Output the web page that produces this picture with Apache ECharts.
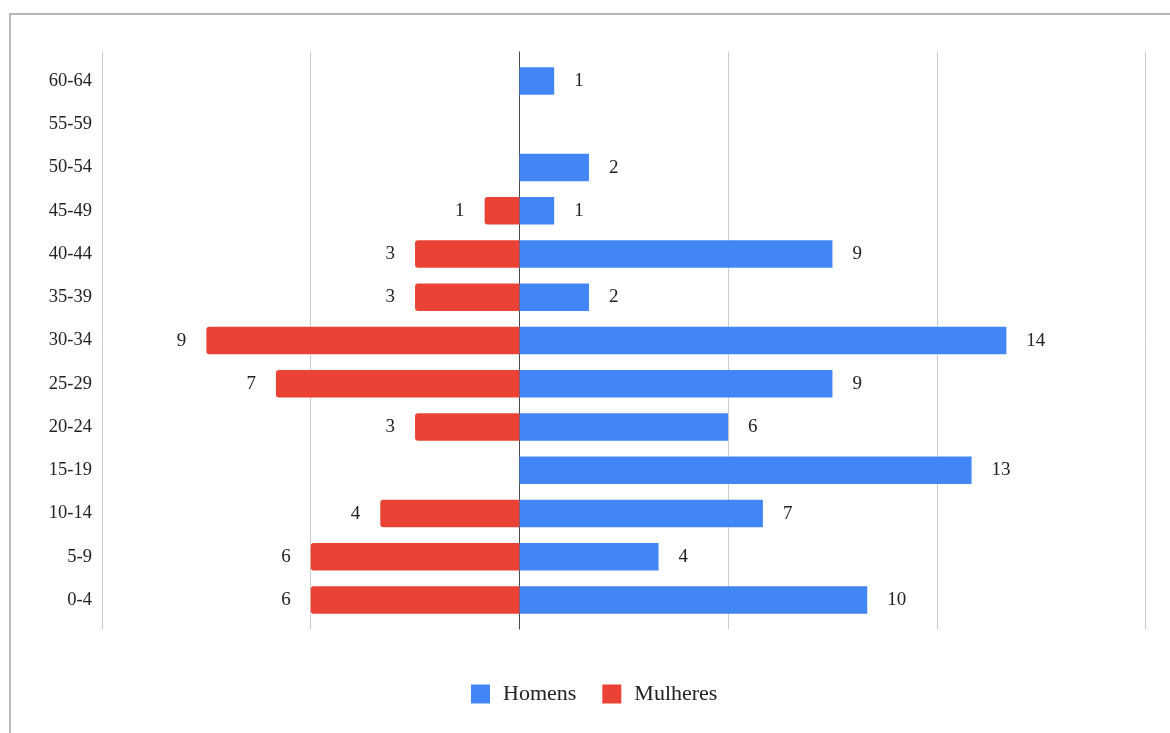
<!DOCTYPE html>
<html>
<head>
<meta charset="utf-8">
<script src="https://cdn.jsdelivr.net/npm/echarts@6/dist/echarts.min.js"></script>
<style>
  html, body { margin: 0; padding: 0; background: #fff; }
  #chart { position: absolute; left: 0; top: 0; width: 1170px; height: 733px; }
  #frame { position: absolute; left: 9px; top: 13px; width: 1200px; height: 800px;
           border-top: 2px solid #b8b8b8; border-left: 2px solid #b8b8b8; pointer-events: none; }
</style>
</head>
<body>
<div id="chart"></div>
<div id="frame"></div>
<script>
// Age groups, youngest first (drawn bottom to top)
const ageGroups = ['0-4', '5-9', '10-14', '15-19', '20-24', '25-29', '30-34',
                   '35-39', '40-44', '45-49', '50-54', '55-59', '60-64'];
// Counts per age group
const homens   = [10, 4, 7, 13, 6, 9, 14, 2, 9, 1, 2, null, 1];
const mulheres = [6, 6, 4, null, 3, 7, 9, 3, 3, 1, null, null, null];
// Value axis range and step
const axisMin = -12, axisMax = 18, axisStep = 6;

const font = '"Liberation Serif", "Times New Roman", serif';
const blue = '#4285F4', red = '#EA4335';

const chart = echarts.init(document.getElementById('chart'), null, { renderer: 'canvas' });

chart.setOption({
  animation: false,
  backgroundColor: '#fff',
  grid: [
    // background grid carrying the vertical gridlines
    { left: 102, right: 24.5, top: 51.5, height: 578, containLabel: false },
    // plotting grid for the bars
    { left: 102, right: 24.5, top: 59.4, height: 562.3, containLabel: false }
  ],
  xAxis: [
    {
      gridIndex: 0, type: 'value', min: axisMin, max: axisMax, interval: axisStep,
      axisLine: { show: false }, axisTick: { show: false }, axisLabel: { show: false },
      splitLine: { show: true, lineStyle: { width: 1, color: ['#cccccc', '#cccccc', '#4a4a4a', '#cccccc', '#cccccc', '#cccccc'] } }
    },
    {
      gridIndex: 1, type: 'value', min: axisMin, max: axisMax, interval: axisStep,
      axisLine: { show: false }, axisTick: { show: false }, axisLabel: { show: false },
      splitLine: { show: false }
    }
  ],
  yAxis: [
    {
      gridIndex: 0, type: 'category', data: ageGroups, show: false
    },
    {
      gridIndex: 1, type: 'category', data: ageGroups,
      axisLine: { show: false }, axisTick: { show: false },
      axisLabel: { margin: 10, color: '#222', fontFamily: font, fontSize: 18.5 },
      splitLine: { show: false }
    }
  ],
  legend: {
    left: 471, top: 683, padding: 0,
    itemWidth: 19, itemHeight: 19, itemGap: 26,
    icon: 'rect',
    textStyle: { fontFamily: font, fontSize: 22, color: '#222', padding: [0, 0, 0, 8] },
    data: ['Homens', 'Mulheres']
  },
  series: [
    {
      name: 'Homens', type: 'bar', xAxisIndex: 1, yAxisIndex: 1,
      data: homens, barWidth: 27.5, barGap: '-100%',
      itemStyle: { color: blue },
      label: {
        show: true, position: 'right', distance: 20,
        fontFamily: font, fontSize: 19, color: '#222'
      }
    },
    {
      name: 'Mulheres', type: 'bar', xAxisIndex: 1, yAxisIndex: 1,
      data: mulheres.map(v => v == null ? null : -v), barWidth: 27.5, barGap: '-100%',
      itemStyle: { color: red, borderRadius: [3, 0, 0, 3] },
      label: {
        show: true, position: 'left', distance: 20,
        fontFamily: font, fontSize: 19, color: '#222',
        formatter: p => Math.abs(p.value)
      }
    }
  ]
});
</script>
</body>
</html>
